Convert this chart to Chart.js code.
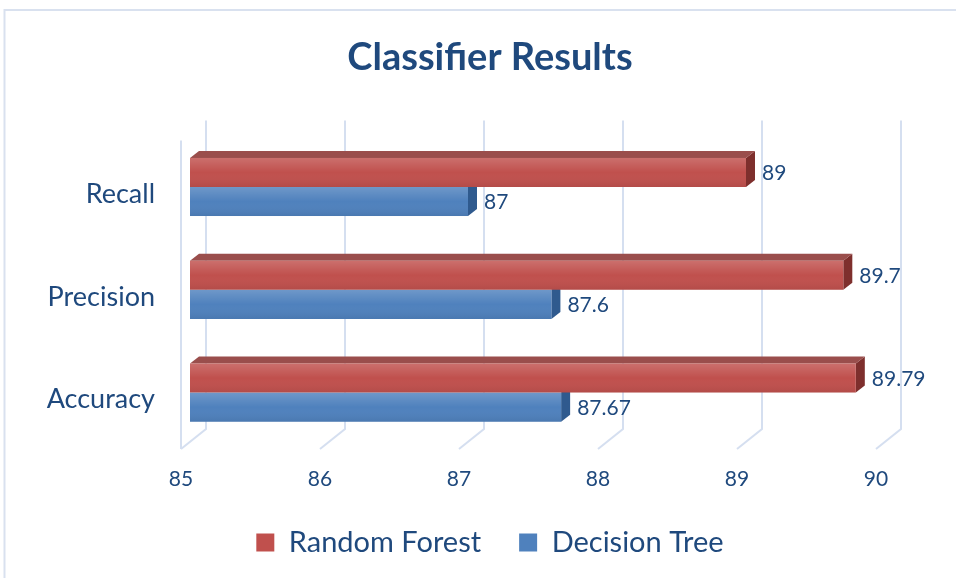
<!DOCTYPE html>
<html>
<head>
<meta charset="utf-8">
<title>Classifier Results</title>
<script src="https://cdn.jsdelivr.net/npm/chart.js@4.4.1/dist/chart.umd.min.js"></script>
<style>
  html, body { margin: 0; padding: 0; background: #fff; }
  #wrap { width: 956px; height: 578px; position: relative; }
</style>
</head>
<body>
<div id="wrap"><canvas id="classifierChart"></canvas></div>
<script>
// === data ===
const metricas = ["Recall", "Precision", "Accuracy"];
const randomForest = [89, 89.7, 89.79];
const decisionTree = [87, 87.6, 87.67];
const ticksX = [85, 86, 87, 88, 89, 90];

const TEXTO = "#1f497d";
const DX = 9, DY = 7; // depth of the 3D bars

Chart.defaults.font.family = "Lato";

// white background + the light frame around the chart
const marco = {
  id: "marco",
  beforeDraw(chart) {
    const c = chart.ctx;
    c.save();
    c.fillStyle = "#fff";
    c.fillRect(0, 0, chart.width, chart.height);
    c.strokeStyle = "#d9e1ef";
    c.lineWidth = 2;
    c.beginPath();
    c.moveTo(4.5, chart.height + 2);
    c.lineTo(4.5, 10);
    c.lineTo(chart.width + 2, 10);
    c.stroke();
    c.restore();
  }
};

// back wall gridlines, floor diagonals and the hidden faces of the bars
const fondo3d = {
  id: "fondo3d",
  beforeDatasetsDraw(chart) {
    const { ctx: c, chartArea: a, scales: { x } } = chart;
    c.save();
    c.strokeStyle = "#d5dff0";
    c.lineWidth = 2;
    const topBack = a.top - 15, botBack = a.bottom - 15, botFront = a.bottom + 5;
    ticksX.forEach(v => {
      const px = x.getPixelForValue(v);
      c.beginPath();
      c.moveTo(px + 16, topBack);
      c.lineTo(px + 16, botBack);
      c.lineTo(px - 9, botFront);
      c.stroke();
    });
    const p0 = x.getPixelForValue(ticksX[0]) - 9;
    c.beginPath();
    c.moveTo(p0, a.top + 5);
    c.lineTo(p0, botFront);
    c.stroke();

    chart.data.datasets.forEach((ds, i) => {
      chart.getDatasetMeta(i).data.forEach(bar => {
        const { x: px, y, base, height } = bar.getProps(["x", "y", "base", "height"], true);
        const top = y - height / 2, bottom = y + height / 2;
        c.fillStyle = ds.sideColor;
        c.beginPath();
        c.moveTo(px, top);
        c.lineTo(px + DX, top - DY);
        c.lineTo(px + DX, bottom - DY);
        c.lineTo(px, bottom);
        c.closePath();
        c.fill();
        if (i === 0) {
          c.fillStyle = ds.topColor;
          c.beginPath();
          c.moveTo(base, top);
          c.lineTo(px, top);
          c.lineTo(px + DX, top - DY);
          c.lineTo(base + DX, top - DY);
          c.closePath();
          c.fill();
        }
      });
    });
    c.restore();
  },
  afterDatasetsDraw(chart) {
    const c = chart.ctx;
    c.save();
    chart.data.datasets.forEach((ds, i) => {
      chart.getDatasetMeta(i).data.forEach((bar, j) => {
        const { x: px, y, base, height } = bar.getProps(["x", "y", "base", "height"], true);
        const top = y - height / 2, bottom = y + height / 2;
        const g = c.createLinearGradient(0, top, 0, bottom);
        g.addColorStop(0, "rgba(255,255,255,0.18)");
        g.addColorStop(0.5, "rgba(255,255,255,0)");
        g.addColorStop(1, "rgba(0,0,0,0.07)");
        c.fillStyle = g;
        c.fillRect(base, top, px - base, height);

        c.fillStyle = TEXTO;
        c.font = "21px Lato";
        c.textBaseline = "middle";
        c.textAlign = "left";
        c.fillText(String(ds.data[j]), px + DX + 7, y + 1);
      });
    });
    c.restore();
  }
};

new Chart(document.getElementById("classifierChart"), {
  type: "bar",
  data: {
    labels: metricas,
    datasets: [
      {
        label: "Random Forest",
        data: randomForest,
        base: 85,
        backgroundColor: "#c0504d",
        sideColor: "#7e2f2d",
        topColor: "#9a4e4c",
        borderWidth: 0
      },
      {
        label: "Decision Tree",
        data: decisionTree,
        base: 85,
        backgroundColor: "#4f81bd",
        sideColor: "#2f5a8e",
        borderWidth: 0
      }
    ]
  },
  options: {
    indexAxis: "y",
    responsive: true,
    maintainAspectRatio: false,
    animation: false,
    events: [],
    categoryPercentage: 0.566,
    barPercentage: 1,
    layout: { padding: { left: 24, right: 0, top: 0, bottom: 11 } },
    scales: {
      x: {
        type: "linear",
        min: 85,
        max: 90,
        grid: { display: false, drawTicks: false },
        border: { display: false },
        ticks: { stepSize: 1, color: TEXTO, font: { size: 21 }, padding: 23, labelOffset: -9 },
        afterFit: s => { s.height = 46; }
      },
      y: {
        grid: { display: false, drawTicks: false },
        border: { display: false },
        ticks: { color: TEXTO, font: { size: 27 }, padding: 35, labelOffset: 7 },
        afterFit: s => { s.width = 166; }
      },
      derecha: {
        type: "linear",
        position: "right",
        display: true,
        grid: { display: false, drawTicks: false },
        border: { display: false },
        ticks: { display: false },
        afterFit: s => { s.width = 71; }
      }
    },
    plugins: {
      title: {
        display: true,
        text: "Classifier Results",
        color: TEXTO,
        font: { size: 38, weight: "bold" },
        padding: { top: 35, bottom: 55 }
      },
      legend: {
        position: "bottom",
        labels: { color: TEXTO, font: { size: 29 }, boxWidth: 18, boxHeight: 18, padding: 38 }
      },
      tooltip: { enabled: false }
    }
  },
  plugins: [marco, fondo3d]
});
</script>
</body>
</html>
